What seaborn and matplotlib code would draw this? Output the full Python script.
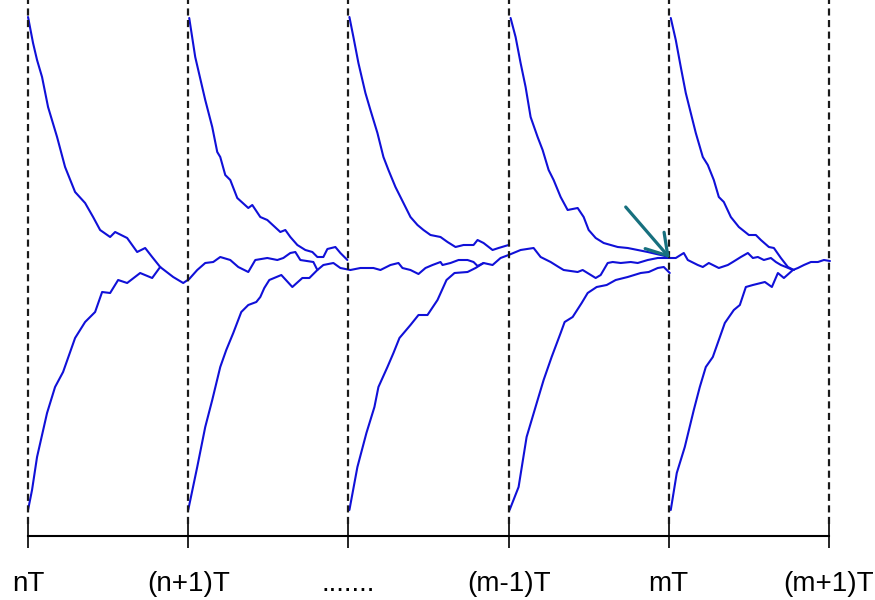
import matplotlib
matplotlib.use("Agg")
import matplotlib.pyplot as plt
import pandas as pd
import seaborn as sns

# ---------------- data (time in samples, one period T = 160 samples) ----------------
tick_pos = [0, 160, 320, 480, 640, 800]
tick_labels = ["nT", "(n+1)T", ".......", "(m-1)T", "mT", "(m+1)T"]

# decaying branches starting high at each period start
t_top1 = [0, 5, 9, 14, 20, 29, 37, 47, 57, 65, 72, 82, 87, 99, 109, 117, 124, 132]
v_top1 = [495, 469, 452, 435, 405, 375, 345, 320, 309, 295, 282, 275, 280, 274, 260, 264, 255, 245]

t_top2 = [161, 167, 177, 184, 189, 192, 197, 202, 209, 220, 224, 232, 239, 252, 257, 262, 269, 277, 284, 289, 295, 299, 307, 312, 319]
v_top2 = [494, 455, 412, 385, 360, 355, 337, 332, 314, 304, 307, 295, 292, 280, 282, 275, 267, 262, 260, 255, 255, 263, 265, 259, 252]

t_top3 = [321, 325, 330, 337, 342, 349, 355, 360, 367, 375, 382, 389, 395, 402, 412, 419, 427, 435, 445, 449, 455, 464, 470, 480]
v_top3 = [495, 475, 449, 419, 402, 379, 355, 342, 325, 309, 295, 287, 282, 277, 275, 270, 265, 267, 267, 272, 269, 262, 264, 267]

t_top4 = [482, 487, 492, 497, 502, 509, 514, 520, 525, 532, 539, 549, 555, 560, 567, 575, 589, 599, 609, 619, 632, 640]
v_top4 = [494, 475, 449, 425, 395, 375, 362, 342, 332, 315, 302, 304, 295, 282, 274, 269, 265, 264, 262, 260, 257, 255]

t_top5 = [642, 647, 652, 657, 662, 667, 674, 679, 685, 690, 695, 702, 710, 720, 727, 732, 740, 745, 752, 759, 765]
v_top5 = [494, 472, 445, 419, 399, 379, 355, 347, 332, 315, 310, 295, 285, 277, 277, 272, 265, 264, 254, 245, 242]

# rising branches starting low at each period start
t_bot1 = [0, 4, 9, 19, 27, 35, 47, 57, 67, 74, 82, 90, 99, 112, 124, 132]
v_bot1 = [2, 22, 55, 99, 125, 140, 174, 190, 200, 220, 219, 232, 229, 239, 234, 245]

t_bot2 = [160, 169, 177, 184, 192, 198, 205, 213, 220, 228, 232, 236, 241, 253, 264, 274, 281, 289]
v_bot2 = [2, 45, 85, 112, 145, 162, 179, 200, 207, 210, 215, 224, 232, 237, 225, 234, 234, 242]

t_bot3 = [321, 329, 338, 346, 350, 359, 365, 371, 382, 390, 399, 409, 418, 426, 439, 447, 455]
v_bot3 = [2, 45, 79, 105, 125, 145, 159, 174, 187, 197, 197, 212, 232, 239, 240, 244, 249]

t_bot4 = [481, 490, 498, 509, 515, 523, 532, 536, 544, 553, 559, 568, 578, 587, 599, 612, 620, 629, 635, 641]
v_bot4 = [2, 25, 75, 112, 132, 155, 179, 190, 195, 209, 219, 225, 227, 232, 235, 239, 240, 244, 245, 239]

t_bot5 = [642, 648, 656, 665, 671, 677, 684, 690, 696, 705, 711, 717, 724, 736, 743, 749, 755, 764]
v_bot5 = [2, 39, 65, 102, 125, 145, 155, 172, 189, 202, 207, 225, 227, 230, 225, 239, 234, 242]

# converged (steady) trajectory carried across the periods
t_mid = [132, 145, 155, 161, 169, 177, 185, 192, 202, 210, 220, 227, 239, 249, 255, 262, 267, 272,
         285, 289, 295, 305, 312, 322, 332, 345, 352, 362, 370, 374, 382, 390, 397, 404, 412, 414,
         422, 430, 439, 445, 449, 455, 464, 472, 480, 492, 505, 512, 522, 530, 535, 549, 554, 567,
         572, 579, 584, 592, 602, 609, 619, 629, 641, 647, 655, 659, 669, 674, 680, 690, 699, 704,
         712, 719, 724, 729, 735, 742, 747, 752, 757, 764, 769, 775, 782, 789, 795, 801]
v_mid = [245, 235, 229, 233, 242, 249, 250, 255, 252, 245, 240, 252, 254, 252, 254, 259, 260, 252,
         250, 242, 247, 249, 244, 242, 244, 244, 242, 247, 249, 244, 242, 238, 244, 247, 250, 247,
         249, 252, 252, 250, 246, 249, 247, 254, 257, 262, 264, 255, 250, 245, 242, 240, 242, 234,
         237, 249, 250, 249, 250, 249, 252, 254, 254, 254, 259, 252, 247, 245, 249, 244, 247, 250,
         255, 259, 254, 255, 252, 254, 250, 247, 245, 242, 244, 247, 250, 250, 252, 251]

# arrow pointing at the converged state at mT
arrow_tail = (597, 305)
arrow_head = (641, 254)

# ---------------- build long-form table ----------------
series = {
    "top1": (t_top1, v_top1), "top2": (t_top2, v_top2), "top3": (t_top3, v_top3),
    "top4": (t_top4, v_top4), "top5": (t_top5, v_top5),
    "bot1": (t_bot1, v_bot1), "bot2": (t_bot2, v_bot2), "bot3": (t_bot3, v_bot3),
    "bot4": (t_bot4, v_bot4), "bot5": (t_bot5, v_bot5),
    "mid": (t_mid, v_mid),
}
rows = []
for name, (ts, vs) in series.items():
    for i, (t, v) in enumerate(zip(ts, vs)):
        rows.append({"curve": name, "order": i, "t": t, "v": v})
df = pd.DataFrame(rows)

# ---------------- plot ----------------
sns.set_style("white")
plt.rcParams["font.family"] = ["Liberation Sans", "DejaVu Sans"]

BLUE = "#1010D8"
TEAL = "#17707E"

fig = plt.figure(figsize=(8.75, 6), dpi=100)
ax = fig.add_axes([0, 0, 1, 1])
ax.set_facecolor("white")

sns.lineplot(data=df, x="t", y="v", units="curve", estimator=None, sort=False,
             color=BLUE, lw=1.5, legend=False, ax=ax)
for ln in ax.get_lines():
    ln.set_solid_joinstyle("round")

# dashed period boundaries
ax.vlines(tick_pos, -12, 520, colors="#1a1a1a", linestyles=(0, (3.2, 2.0)), lw=1.6)

ax.annotate("", xy=arrow_head, xytext=arrow_tail,
            arrowprops=dict(arrowstyle="->,head_length=1.45,head_width=0.9",
                            color=TEAL, lw=2.3, shrinkA=0, shrinkB=0, mutation_scale=10))

ax.set_xlim(-28, 846)
ax.set_ylim(-88, 512)

for s in ["top", "right", "left"]:
    ax.spines[s].set_visible(False)
ax.spines["bottom"].set_visible(True)
ax.spines["bottom"].set_position(("data", -24))
ax.spines["bottom"].set_bounds(0, 800)
ax.spines["bottom"].set_color("black")
ax.spines["bottom"].set_linewidth(1.5)

ax.set_xticks(tick_pos)
ax.set_xticklabels(tick_labels, fontsize=20)
ax.tick_params(axis="x", direction="inout", length=17, width=1.2, color="black",
               pad=17, bottom=True, labelcolor="black")
ax.set_yticks([])
ax.set_xlabel("")
ax.set_ylabel("")

fig.savefig("out.png", dpi=100, facecolor="white")
